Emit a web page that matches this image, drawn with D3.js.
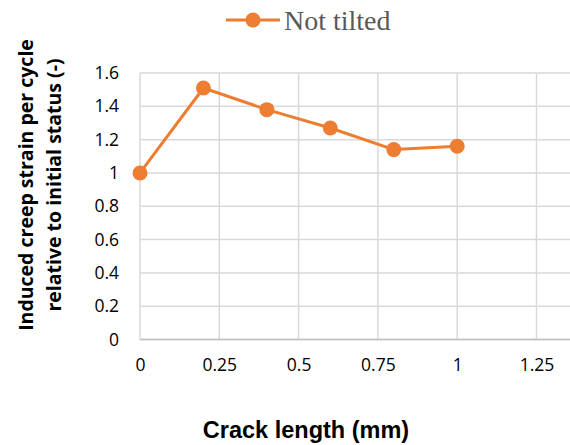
<!DOCTYPE html>
<html>
<head>
<meta charset="utf-8">
<script src="https://cdn.jsdelivr.net/npm/d3@7"></script>
<style>
  html, body { margin: 0; padding: 0; background: #fff; }
  svg { display: block; }
</style>
</head>
<body>
<svg id="chart" width="570" height="445"></svg>
<script>
// Crack length (mm) vs. induced creep strain per cycle, relative to the initial status
const crackLength = [0, 0.2, 0.4, 0.6, 0.8, 1.0];
const notTilted = [1.0, 1.51, 1.38, 1.27, 1.14, 1.16];
const seriesName = "Not tilted";
const xTicks = [0, 0.25, 0.5, 0.75, 1, 1.25];
const yTicks = [0, 0.2, 0.4, 0.6, 0.8, 1, 1.2, 1.4, 1.6];
const xTitle = "Crack length (mm)";
const yTitleLines = ["Induced creep strain per cycle", "relative to initial status (-)"];

const W = 570, H = 445;
const plot = { left: 140, right: 570, top: 73, bottom: 339.5 };
const orange = "#ED7D31";
const gridColor = "#D9D9D9";
const tickFont = "'Open Sans', 'Liberation Sans', sans-serif";

const svg = d3.select("#chart");

// x scale: 0..1.25 spans 140..536.5, the grid continues to the right edge
const x = d3.scaleLinear()
  .domain([0, 1.25])
  .range([plot.left, 536.5]);
const y = d3.scaleLinear()
  .domain([0, 1.6])
  .range([plot.bottom, plot.top]);

// horizontal grid
svg.append("g")
  .selectAll("line")
  .data(yTicks)
  .join("line")
  .attr("x1", plot.left).attr("x2", plot.right)
  .attr("y1", d => y(d)).attr("y2", d => y(d))
  .attr("stroke", gridColor)
  .attr("stroke-width", 1.5);

// vertical grid
svg.append("g")
  .selectAll("line")
  .data(xTicks)
  .join("line")
  .attr("x1", d => x(d)).attr("x2", d => x(d))
  .attr("y1", plot.top).attr("y2", plot.bottom)
  .attr("stroke", gridColor)
  .attr("stroke-width", 1.5);

// bottom axis line
svg.append("line")
  .attr("x1", plot.left).attr("x2", plot.right)
  .attr("y1", plot.bottom).attr("y2", plot.bottom)
  .attr("stroke", "#BFBFBF")
  .attr("stroke-width", 1.5);

// x axis tick labels
const xAxis = d3.axisBottom(x)
  .tickValues(xTicks)
  .tickFormat(d3.format("~g"))
  .tickSize(0)
  .tickPadding(19);
const gx = svg.append("g")
  .attr("transform", `translate(0,${plot.bottom})`)
  .call(xAxis)
  .attr("font-family", tickFont)
  .attr("font-size", 17.5);
gx.select(".domain").remove();
gx.selectAll("text").attr("fill", "#000");

// y axis tick labels
const yAxis = d3.axisLeft(y)
  .tickValues(yTicks)
  .tickFormat(d3.format("~g"))
  .tickSize(0)
  .tickPadding(21);
const gy = svg.append("g")
  .attr("transform", `translate(${plot.left},0)`)
  .call(yAxis)
  .attr("font-family", tickFont)
  .attr("font-size", 17.5);
gy.select(".domain").remove();
gy.selectAll("text").attr("fill", "#000");

// series line and markers
const pts = crackLength.map((c, i) => ({ c, v: notTilted[i] }));
svg.append("path")
  .datum(pts)
  .attr("fill", "none")
  .attr("stroke", orange)
  .attr("stroke-width", 3)
  .attr("stroke-linejoin", "round")
  .attr("d", d3.line().x(d => x(d.c)).y(d => y(d.v)));

svg.append("g")
  .selectAll("circle")
  .data(pts)
  .join("circle")
  .attr("cx", d => x(d.c))
  .attr("cy", d => y(d.v))
  .attr("r", 7.5)
  .attr("fill", orange);

// legend
const legend = svg.append("g").attr("transform", "translate(226,20)");
legend.append("line")
  .attr("x1", 0).attr("x2", 54).attr("y1", 0).attr("y2", 0)
  .attr("stroke", orange).attr("stroke-width", 3);
legend.append("circle")
  .attr("cx", 27).attr("cy", 0).attr("r", 7.5).attr("fill", orange);
legend.append("text")
  .attr("x", 58).attr("y", 9.5)
  .attr("font-family", "'Liberation Serif', 'Times New Roman', serif")
  .attr("font-size", 28)
  .attr("fill", "#595959")
  .text(seriesName);

// x axis title
svg.append("text")
  .attr("x", 306).attr("y", 438)
  .attr("text-anchor", "middle")
  .attr("font-family", "'Liberation Sans', Arial, sans-serif")
  .attr("font-weight", "bold")
  .attr("font-size", 23.5)
  .attr("fill", "#000")
  .text(xTitle);

// y axis title (two rotated lines)
const yt = svg.append("text")
  .attr("transform", "translate(0,185) rotate(-90)")
  .attr("text-anchor", "middle")
  .attr("font-family", "'Open Sans', 'Noto Sans', sans-serif")
  .attr("font-weight", "bold")
  .attr("font-size", 19.5)
  .attr("fill", "#000");
yt.append("tspan").attr("x", 0).attr("y", 33).text(yTitleLines[0]);
yt.append("tspan").attr("x", 0).attr("y", 61).text(yTitleLines[1]);
</script>
</body>
</html>
